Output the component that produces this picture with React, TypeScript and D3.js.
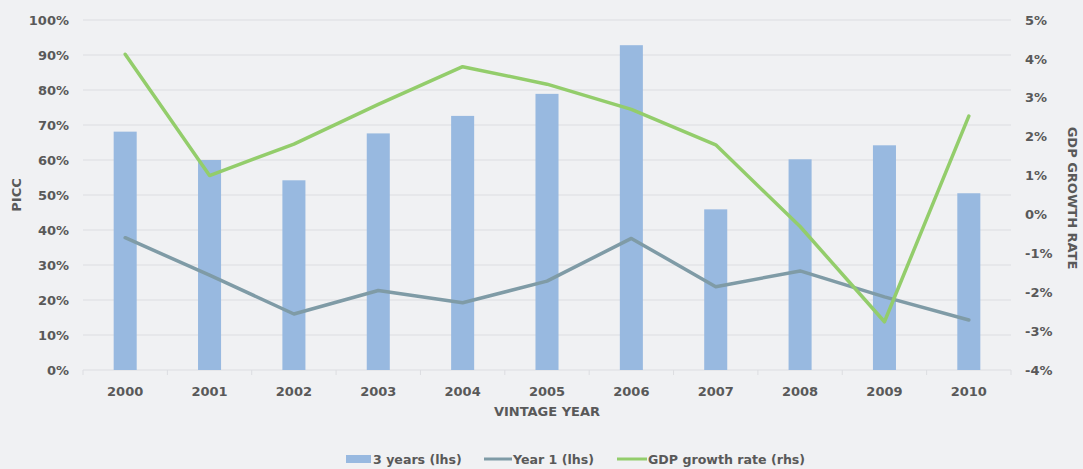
import React from "react";
import * as d3 from "d3";

const years = ["2000", "2001", "2002", "2003", "2004", "2005", "2006", "2007", "2008", "2009", "2010"];
const threeYears = [68.1, 60.0, 54.2, 67.6, 72.6, 78.9, 92.8, 45.9, 60.2, 64.2, 50.5];
const yearOne = [37.8, 27.1, 16.0, 22.7, 19.2, 25.4, 37.6, 23.8, 28.3, 20.9, 14.3];
const gdpGrowth = [4.12, 1.0, 1.81, 2.83, 3.8, 3.35, 2.7, 1.79, -0.31, -2.76, 2.53];
const leftTicks = [0, 10, 20, 30, 40, 50, 60, 70, 80, 90, 100];
const rightTicks = [-4, -3, -2, -1, 0, 1, 2, 3, 4, 5];

const W = 1083;
const H = 469;
const M = { left: 83, right: 1011, top: 20, bottom: 370 };
const FONT = "'DejaVu Sans', sans-serif";
const TEXT = "#595959";
const BAR = "#98b9e0";
const LINE1 = "#7f9ba6";
const GDP = "#93cd6b";
const GRID = "#dcdde1";

export default function App() {
  const x = d3.scaleBand<string>().domain(years).range([M.left, M.right]).padding(0);
  const yL = d3.scaleLinear().domain([0, 100]).range([M.bottom, M.top]);
  const yR = d3.scaleLinear().domain([-4, 5]).range([M.bottom, M.top]);
  const bw = x.bandwidth() * 0.273;
  const cx = (d: string) => (x(d) as number) + x.bandwidth() / 2;

  const line1 = d3
    .line<number>()
    .x((_, i) => cx(years[i]))
    .y((v) => yL(v));
  const lineG = d3
    .line<number>()
    .x((_, i) => cx(years[i]))
    .y((v) => yR(v));

  const boundaries = [...years.map((d) => x(d) as number), M.right];

  return (
    <svg
      width={W}
      height={H}
      style={{ position: "absolute", left: 0, top: 0, background: "#f0f1f3" }}
      fontFamily={FONT}
    >
      <rect x={0} y={0} width={W} height={H} fill="#f0f1f3" />
      {leftTicks.map((t) => (
        <line key={t} x1={M.left} x2={M.right} y1={yL(t)} y2={yL(t)} stroke={GRID} strokeWidth={1} />
      ))}
      {boundaries.map((b, i) => (
        <line key={i} x1={b} x2={b} y1={M.bottom} y2={M.bottom + 5} stroke={GRID} strokeWidth={1} />
      ))}
      {years.map((d, i) => (
        <rect key={d} x={cx(d) - bw / 2} y={yL(threeYears[i])} width={bw} height={yL(0) - yL(threeYears[i])} fill={BAR} />
      ))}
      <path d={line1(yearOne) as string} fill="none" stroke={LINE1} strokeWidth={3.5} strokeLinejoin="round" strokeLinecap="round" />
      <path d={lineG(gdpGrowth) as string} fill="none" stroke={GDP} strokeWidth={3.5} strokeLinejoin="round" strokeLinecap="round" />

      {leftTicks.map((t) => (
        <text key={t} x={69} y={yL(t)} dy="0.36em" textAnchor="end" fontSize={13} fontWeight="bold" fill={TEXT}>
          {t}%
        </text>
      ))}
      {rightTicks.map((t) => (
        <text key={t} x={1025} y={yR(t)} dy="0.36em" textAnchor="start" fontSize={13} fontWeight="bold" fill={TEXT}>
          {t}%
        </text>
      ))}
      {years.map((d) => (
        <text key={d} x={cx(d)} y={391} dy="0.36em" textAnchor="middle" fontSize={13} fontWeight="bold" fill={TEXT}>
          {d}
        </text>
      ))}
      <text x={(M.left + M.right) / 2} y={411} dy="0.36em" textAnchor="middle" fontSize={13} fontWeight="bold" fill={TEXT}>
        VINTAGE YEAR
      </text>
      <text transform={`translate(16,195) rotate(-90)`} dy="0.36em" textAnchor="middle" fontSize={13} fontWeight="bold" fill={TEXT}>
        PICC
      </text>
      <text transform={`translate(1073,198) rotate(90)`} dy="0.36em" textAnchor="middle" fontSize={13} fontWeight="bold" fill={TEXT}>
        GDP GROWTH RATE
      </text>

      <g fontSize={12.6} fontWeight="bold" fill={TEXT}>
        <rect x={346} y={455} width={25} height={8} fill={BAR} />
        <text x={373} y={459} dy="0.36em">3 years (lhs)</text>
        <line x1={484} x2={512} y1={459} y2={459} stroke={LINE1} strokeWidth={3} />
        <text x={513} y={459} dy="0.36em">Year 1 (lhs)</text>
        <line x1={617} x2={647} y1={459} y2={459} stroke={GDP} strokeWidth={3} />
        <text x={648} y={459} dy="0.36em">GDP growth rate (rhs)</text>
      </g>
    </svg>
  );
}
